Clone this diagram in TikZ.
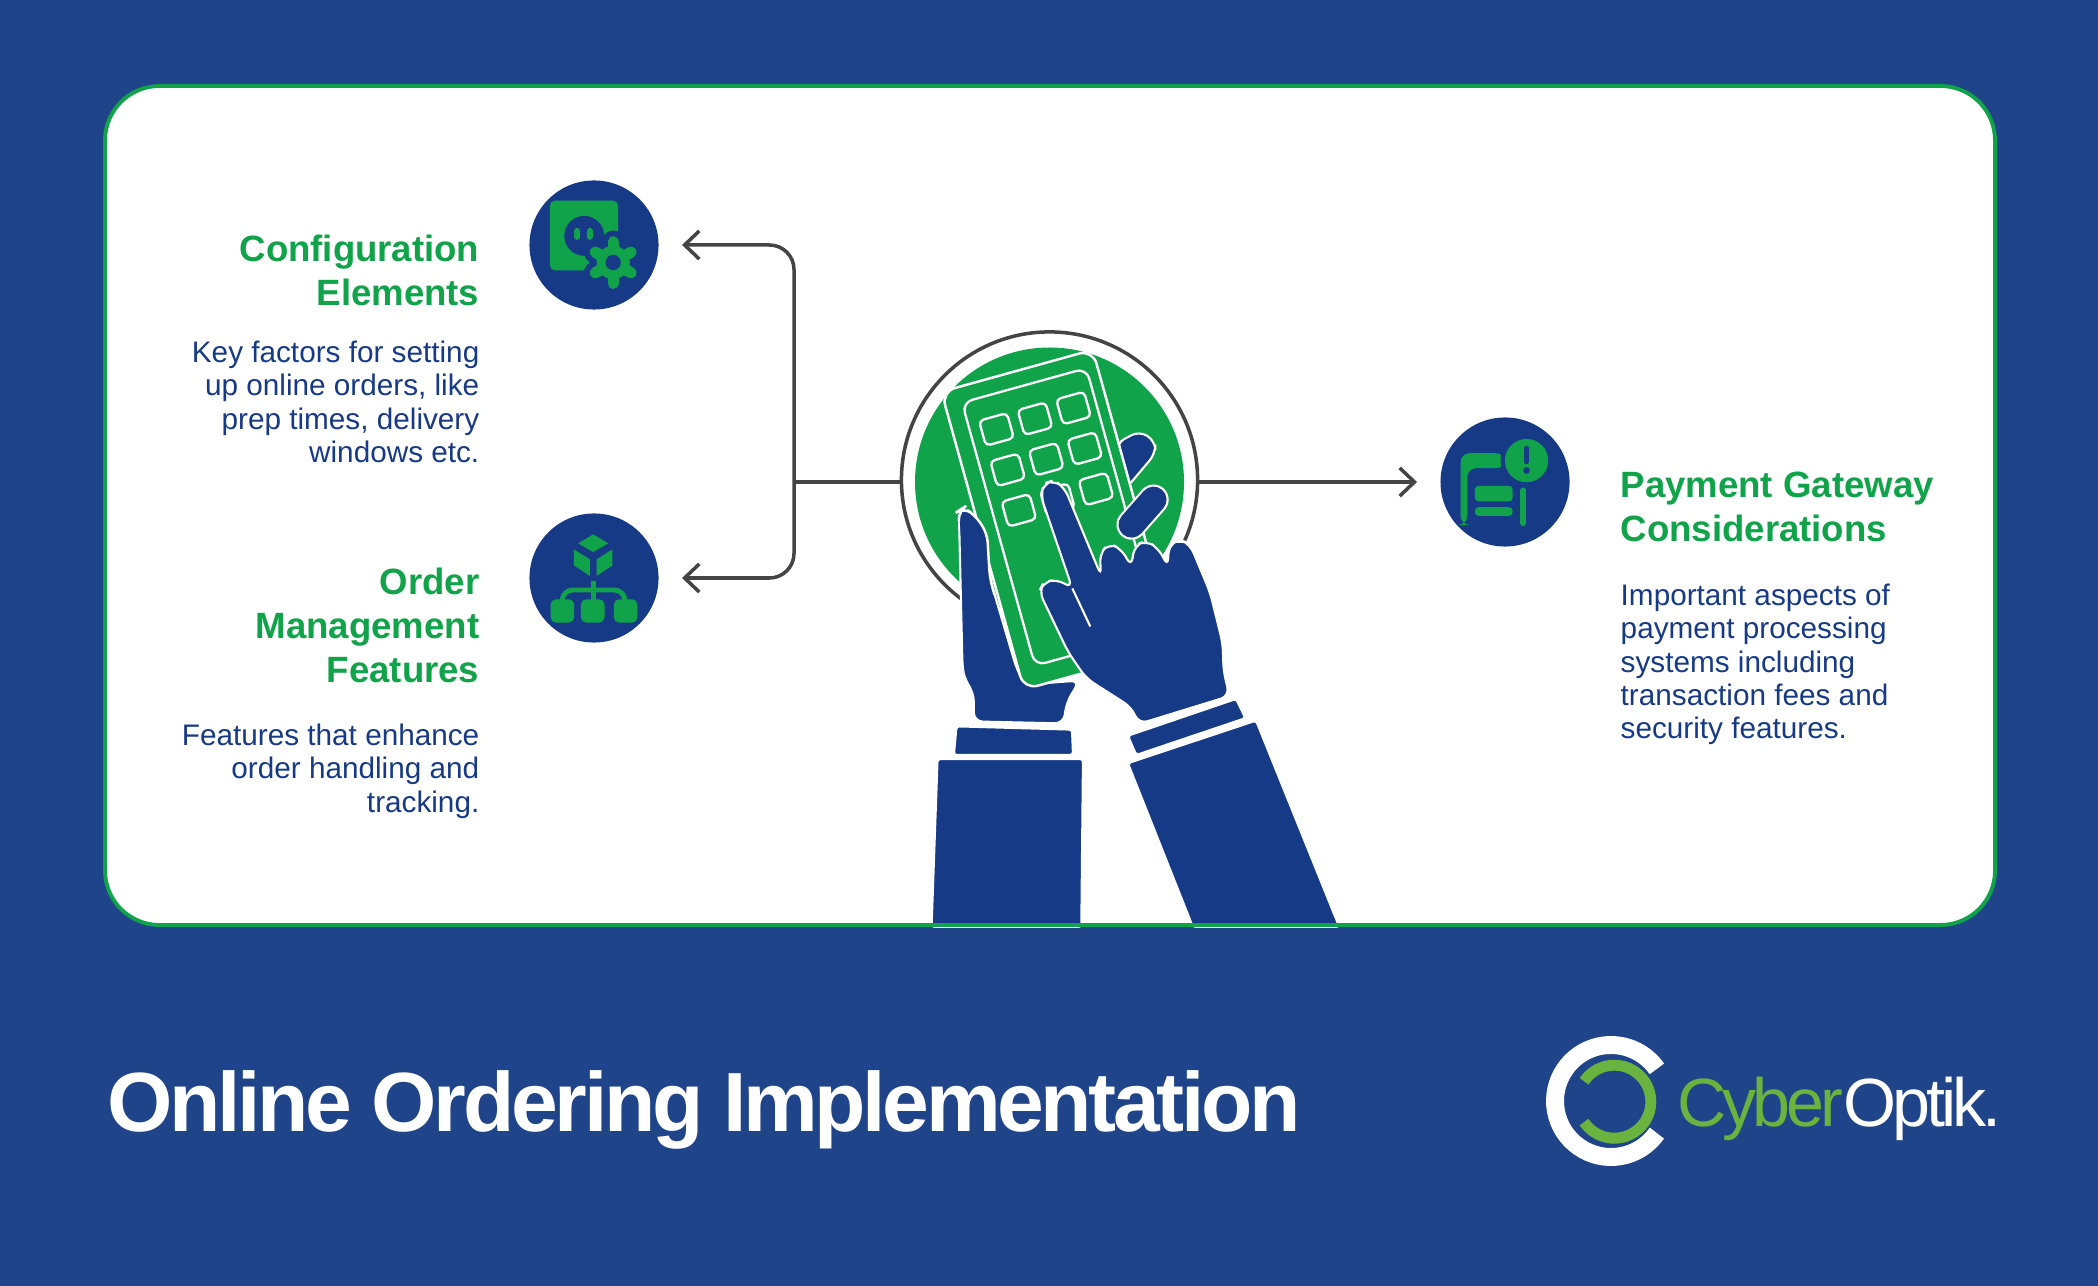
\documentclass[tikz,border=0pt]{standalone}
\usepackage{fontspec}
\setmainfont{Liberation Sans}
\newfontfamily\logofont[LetterSpace=-6]{Liberation Sans}
\newfontfamily\titlefont[LetterSpace=-4]{Liberation Sans}
\usetikzlibrary{arrows.meta}

\definecolor{pagebg}{HTML}{1F4489}
\definecolor{navy}{HTML}{173A87}
\definecolor{leaf}{HTML}{10A34A}
\definecolor{wire}{HTML}{444444}
\definecolor{logogreen}{HTML}{6AB33E}

\tikzset{
	heading/.style={inner sep=0pt, text=leaf, font=\fontsize{10.4}{12.55}\selectfont\bfseries},
	bodytext/.style={inner sep=0pt, text=navy, font=\fontsize{8.45}{9.5}\selectfont},
	iconball/.style={circle, fill=navy, minimum size=1.29cm, inner sep=0pt},
	wireline/.style={line width=1pt, wire},
	wirearrow/.style={wireline, -{Straight Barb[length=4.2pt, width=8pt, line width=1pt]}},
	handshape/.style={fill=navy, draw=white, line width=0.6pt, rounded corners=2.5pt},
	sleeveshape/.style={fill=navy, draw=white, line width=0.6pt, rounded corners=0.8pt},
	handzoom/.style={shift={(860,300)}, x=0.003333cm, y=-0.004082cm},
	iconzoom/.style={x=0.003333cm, y=-0.003333cm},
}

\begin{document}
\begin{tikzpicture}[x=0.01cm, y=-0.01cm]

\def\width{2098}
\def\height{1286}

\path [use as bounding box] (0,0) rectangle (\width,\height);

% BACKGROUND
\fill [pagebg] (0,0) rectangle (\width,\height);
\fill [white, rounded corners=15.5pt] (105,86) rectangle (1995,925);

% HUB
\fill [leaf] (1049.5,482) circle (134.5);
\node (hub) [circle, draw=wire, line width=1pt, minimum size=2.96cm, inner sep=0pt] at (1049.5,480) {};

% ICONS
\node (configball) [iconball] at (594,245) {};
\node (orderball) [iconball] at (594,578) {};
\node (payball) [iconball] at (1505,482) {};

% CONNECTORS
\coordinate (bus) at (794,482);
\coordinate (configtip) at (682,245);
\coordinate (ordertip) at (682,578);
\coordinate (paytip) at (1417,482);
\draw [wireline] (hub.west |- bus) -- (bus);
\draw [wirearrow, rounded corners=7pt] (bus) |- (configtip);
\draw [wirearrow, rounded corners=7pt] (bus) |- (ordertip);
\draw [wirearrow] (hub.east |- bus) -- (paytip);

% BACK FINGER
\begin{scope}[handzoom]
\draw [handshape] (770,350) -- (840,320) -- (887,345) -- (888,375) -- (800,460) -- cycle;

% LEFT HAND
\draw [handshape] (297,515) -- (310,508) -- (345,525) -- (382,570) -- (390,680) -- (470,900)
	-- (495,940) -- (660,930) -- (620,985) -- (612,1035) -- (342,1030) -- (342,960)
	-- (316,930) -- (308,900) -- cycle;
\draw [sleeveshape] (290,1042) -- (637,1050) -- (640,1112) -- (282,1112) -- cycle;
\draw [sleeveshape] (233,1122) -- (670,1122) -- (665,1532) -- (215,1532) -- cycle;
\end{scope}

% PHONE
\begin{scope}[shift={(1058,513)}, rotate=15.5]
\draw [fill=leaf, draw=white, line width=0.7pt, rounded corners=4pt] (-80,-148) rectangle (77,161);
\draw [white, line width=0.65pt, rounded corners=3pt] (-63,-132) rectangle (66,141);
% #1 : u
% #2 : v
\newcommand{\keypadkey}[2]{%
	\draw [white, line width=0.65pt, rounded corners=1.3pt] (#1-14.5,#2-13) rectangle (#1+14.5,#2+13)%
}
\foreach \v in {-97,-55,-13} {
	\foreach \u in {-37,3,43} {
		\keypadkey{\u}{\v};
	}
}
\end{scope}

% THUMB OVER PHONE
\begin{scope}[handzoom]
\fill [navy, rounded corners=2.5pt] (297,515) -- (310,508) -- (345,525) -- (382,570) -- (390,680) -- (400,720) -- (320,720) -- cycle;
\draw [white, line width=0.7pt, rounded corners=2.5pt] (297,540) -- (297,515) -- (310,508) -- (345,525) -- (382,570) -- (390,680) -- (404,720);

% RIGHT HAND
\draw [handshape] (543,478) -- (553,448) -- (582,441) -- (614,458) -- (725,675)
	-- (720,620) -- (748,595) -- (785,608) -- (815,652)
	-- (825,600) -- (860,588) -- (898,608) -- (925,652)
	-- (928,598) -- (962,585) -- (992,598) -- (1052,715) -- (1090,840) -- (1092,905)
	-- (1110,968) -- (838,1036) -- (815,995) -- (680,925) -- (625,860)
	-- (538,712) -- (552,690) -- (592,682) -- (638,705) -- cycle;
\draw [white, line width=0.6pt] (638,705) -- (692,798);
\draw [sleeveshape] (805,1065) -- (1130,975) -- (1158,1022) -- (830,1112) -- cycle;
\draw [sleeveshape] (805,1132) -- (1190,1028) -- (1440,1532) -- (1000,1532) -- cycle;
\draw [white, line width=8.6pt, line cap=round] (816,549) -- (882,488);
\draw [navy, line width=7.4pt, line cap=round] (816,549) -- (882,488);
\end{scope}

% CARD EDGE
\draw [leaf, line width=1.1pt, rounded corners=15.5pt] (105,86) rectangle (1995,925);

% CONFIG ICON
\begin{scope}[shift={(500,160)}, iconzoom]
\fill [leaf, rounded corners=1.5pt] (150,122) rectangle (355,332);
\fill [navy] (253,228) circle (60);
\foreach \x in {232,270} {
	\draw [leaf, line width=1.7pt, line cap=round] (\x,213) -- (\x,231);
}
\fill [navy] (340,308) circle (70);
\foreach \a in {90,150,...,450} {
	\draw [navy, line width=6.5pt, line cap=round] (340,308) -- ++(\a:62);
}
\fill [leaf] (340,308) circle (50);
\foreach \a in {90,150,...,450} {
	\draw [leaf, line width=3.2pt, line cap=round] (340,308) -- ++(\a:62);
}
\fill [navy] (340,308) circle (23);

% ORDER ICON
\fill [leaf] (280,1125) -- (325,1152) -- (280,1178) -- (235,1152) -- cycle;
\fill [leaf] (222,1170) -- (270,1200) -- (270,1250) -- (222,1218) -- cycle;
\fill [leaf] (338,1170) -- (290,1200) -- (290,1250) -- (338,1218) -- cycle;
\draw [leaf, line width=1.4pt, rounded corners=3pt] (187,1325) -- (187,1292) -- (375,1292) -- (375,1325);
\draw [leaf, line width=1.4pt] (280,1265) -- (280,1325);
\foreach \x in {152,243,342} {
	\fill [leaf, rounded corners=1.5pt] (\x,1320) rectangle (\x+71,1390);
}
\end{scope}

% PAYMENT ICON
\begin{scope}[shift={(1420,400)}, iconzoom]
\fill [leaf, rounded corners=2.5pt] (122,375) -- (122,160) -- (255,160) -- (255,205) -- (142,205) -- (142,375) -- cycle;
\fill [navy] (320,182) circle (78);
\fill [leaf] (320,182) circle (65);
\draw [navy, line width=1.5pt, line cap=round] (320,145) -- (320,185);
\fill [navy] (320,212) circle (10);
\fill [leaf, rounded corners=1pt] (165,258) rectangle (278,305);
\fill [leaf, rounded corners=1pt] (165,322) rectangle (278,348);
\draw [leaf, line width=1.7pt, line cap=round] (310,272) -- (310,370);
\end{scope}

% LABELS
\node (configtitle) [heading, anchor=north east, align=right] at (480,234) {Configuration\\Elements};
\node (configbody) [bodytext, anchor=north east, align=right] at (480,340) {Key factors for setting\\up online orders, like\\prep times, delivery\\windows etc.};
\node (ordertitle) [heading, anchor=north east, align=right] at (480,567) {Order\\Management\\Features};
\node (orderbody) [bodytext, anchor=north east, align=right] at (480,723) {Features that enhance\\order handling and\\tracking.};
\node (paytitle) [heading, anchor=north west, align=left] at (1620,471) {Payment Gateway\\Considerations};
\node (paybody) [bodytext, anchor=north west, align=left] at (1620,583) {Important aspects of\\payment processing\\systems including\\transaction fees and\\security features.};

% FOOTER
\node (pagetitle) [anchor=base west, inner sep=0pt, text=white, font=\fontsize{23.9}{26}\titlefont\bfseries] at (106.5,1131) {Online Ordering Implementation};

% LOGO
\draw [white, line width=5.1pt] (1611,1101) ++(35:56) arc (35:325:56);
\draw [logogreen, line width=3.1pt] (1614.3,1101.7) ++(-146:36.5) arc (-146:146:36.5);
\node (logotext) [anchor=base west, inner sep=0pt, font=\fontsize{19.4}{22}\logofont] at (1677,1126) {\textcolor{logogreen}{Cyber}\textcolor{white}{Optik.}};

\end{tikzpicture}
\end{document}
